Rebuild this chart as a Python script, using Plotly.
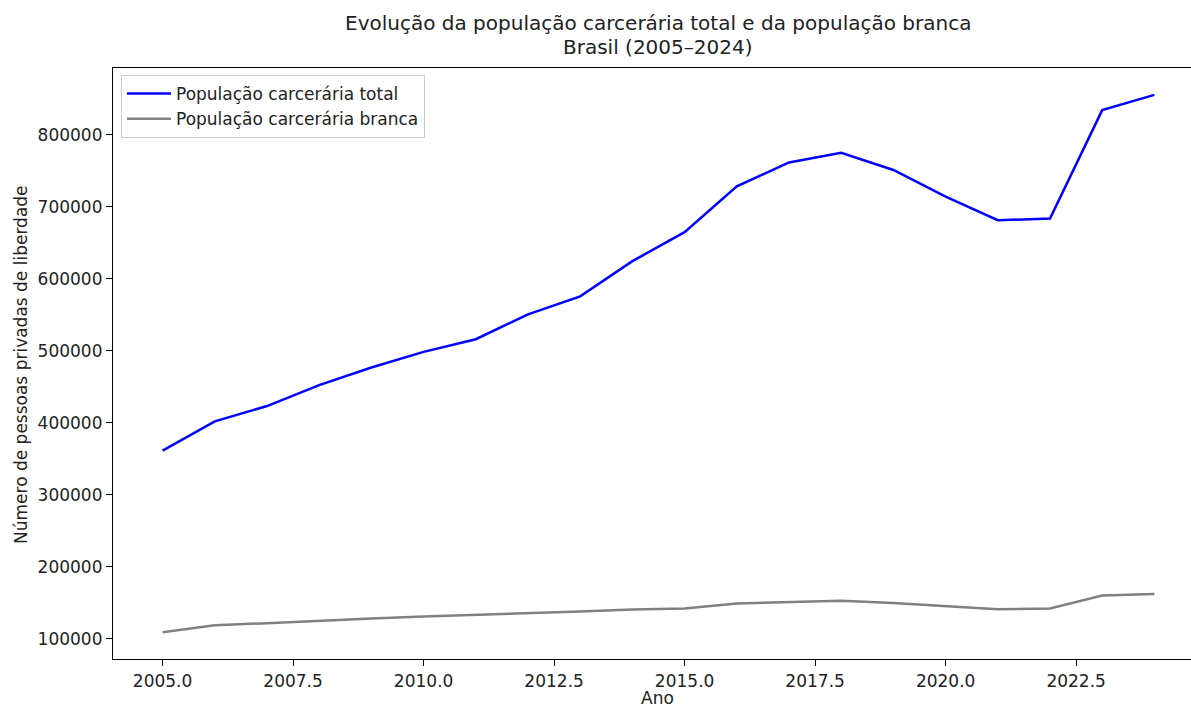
import plotly.graph_objects as go

anos = list(range(2005, 2025))
populacao_total = [361200, 401900, 423100, 452200, 476700, 498300, 515900, 550500, 575500, 624400,
                   664600, 728300, 761500, 774900, 751000, 714000, 681200, 683500, 834100, 855300]
populacao_branca = [109100, 118800, 121600, 125300, 128200, 130900, 133000, 135000, 137600, 140600,
                    142000, 148900, 150800, 152600, 149400, 144700, 141000, 142000, 160100, 161900]

titulo_1 = "Evolução da população carcerária total e da população branca"
titulo_2 = "Brasil (2005–2024)"
rotulo_x = "Ano"
rotulo_y = "Número de pessoas privadas de liberdade"

FONT = "DejaVu Sans"
TXT = "#222222"
FS = 17
W, H = 1204, 709
L, R, T, B = 113, 0, 68, 50
PW, PH = W - L - R, H - T - B

fig = go.Figure()
fig.add_trace(go.Scatter(x=anos, y=populacao_total, mode="lines", name="População carcerária total",
                         line=dict(color="#0000ff", width=2.5)))
fig.add_trace(go.Scatter(x=anos, y=populacao_branca, mode="lines", name="População carcerária branca",
                         line=dict(color="#808080", width=2.5)))

# matplotlib-like 5% margins
allv = populacao_total + populacao_branca
vmin, vmax = min(allv), max(allv)
pad = 0.05 * (vmax - vmin)
yr = [vmin - pad, vmax + pad]
xpad = 0.05 * (anos[-1] - anos[0])
xr = [anos[0] - xpad, anos[-1] + xpad]


def px_x(p):
    return (p - L) / PW


def px_y(p):
    return (H - B - p) / PH


annotations = [
    dict(text=titulo_1, x=px_x(658), y=px_y(23), xref="paper", yref="paper",
         xanchor="center", yanchor="middle", showarrow=False,
         font=dict(family=FONT, size=20, color=TXT)),
    dict(text=titulo_2, x=px_x(658), y=px_y(47), xref="paper", yref="paper",
         xanchor="center", yanchor="middle", showarrow=False,
         font=dict(family=FONT, size=20, color=TXT)),
    dict(text=rotulo_x, x=px_x(657), y=px_y(698), xref="paper", yref="paper",
         xanchor="center", yanchor="middle", showarrow=False,
         font=dict(family=FONT, size=FS, color=TXT)),
    dict(text=rotulo_y, x=px_x(21), y=px_y(365), xref="paper", yref="paper",
         xanchor="center", yanchor="middle", showarrow=False, textangle=-90,
         font=dict(family=FONT, size=FS, color=TXT)),
]

fig.update_layout(
    width=W, height=H,
    margin=dict(l=L, r=R, t=T, b=B, autoexpand=False),
    paper_bgcolor="white", plot_bgcolor="white",
    font=dict(family=FONT, size=FS, color=TXT),
    showlegend=True,
    annotations=annotations,
    legend=dict(x=px_x(121), y=px_y(75), xanchor="left", yanchor="top",
                bgcolor="white", bordercolor="#cccccc", borderwidth=1, itemwidth=44,
                font=dict(family=FONT, size=FS, color=TXT), tracegroupgap=0),
    xaxis=dict(range=xr, tick0=2005, dtick=2.5, tickformat=".1f", automargin=False,
               showgrid=False, zeroline=False, showline=True, linecolor="black", linewidth=1.2,
               mirror=True, ticks="outside", ticklen=6, tickcolor="black"),
    yaxis=dict(range=yr, tick0=0, dtick=100000, tickformat="d", automargin=False,
               showgrid=False, zeroline=False, showline=True, linecolor="black", linewidth=1.2,
               mirror=False, ticks="outside", ticklen=6, tickcolor="black"),
)

fig.write_html("out.html", config={"displayModeBar": False},
               post_script="document.body.style.margin='0';document.body.style.overflow='hidden';")
